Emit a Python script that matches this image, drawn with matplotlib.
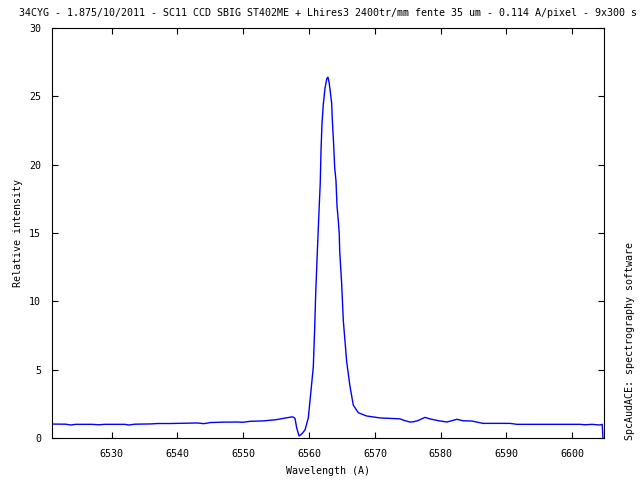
import matplotlib
matplotlib.use("Agg")
import matplotlib.pyplot as plt
import numpy as np

# spectrum (wavelength in A, relative intensity)
wavelength = [
    6520.93, 6523.0, 6523.8, 6524.5, 6527.0, 6528.0, 6529.0, 6532.0, 6532.6, 6533.5,
    6536.0, 6537.0, 6539.0, 6541.0, 6543.0, 6544.0, 6545.0, 6547.0, 6549.0, 6550.0,
    6551.0, 6553.0, 6555.0, 6556.6, 6557.5, 6557.86, 6558.12, 6558.47, 6558.88, 6559.38,
    6559.88, 6560.40, 6560.64, 6560.85, 6561.00, 6561.20, 6561.50, 6561.70, 6561.81, 6561.96,
    6562.16, 6562.42, 6562.70, 6562.87, 6563.05, 6563.18, 6563.43, 6563.53, 6563.74, 6563.89,
    6564.09, 6564.24, 6564.44, 6564.59, 6564.65, 6564.95, 6565.20, 6565.71, 6566.21, 6566.72,
    6567.48, 6568.75, 6570.78, 6573.8, 6574.57, 6575.33, 6575.79, 6576.55, 6577.61, 6578.37,
    6579.59, 6580.96, 6582.48, 6583.39, 6584.76, 6586.43, 6590.53, 6591.59, 6601.17, 6602.0,
    6603.0, 6604.2, 6604.55, 6604.65,
]
intensity = [
    1.02, 1.01, 0.95, 1.00, 1.00, 0.97, 1.00, 1.00, 0.95, 1.01,
    1.03, 1.06, 1.06, 1.08, 1.10, 1.05, 1.13, 1.16, 1.17, 1.15,
    1.22, 1.25, 1.34, 1.48, 1.55, 1.44, 0.73, 0.15, 0.29, 0.59,
    1.46, 4.0, 5.2, 8.0, 10.5, 13.0, 16.5, 18.7, 21.0, 23.0,
    24.4, 25.6, 26.3, 26.4, 26.0, 25.5, 24.5, 23.3, 21.4, 19.8,
    18.8, 17.0, 15.9, 14.9, 13.7, 11.3, 8.6, 5.6, 3.8, 2.4,
    1.85, 1.61, 1.47, 1.40, 1.27, 1.17, 1.18, 1.27, 1.51, 1.40,
    1.27, 1.17, 1.37, 1.26, 1.24, 1.07, 1.07, 1.00, 1.00, 0.97,
    1.00, 0.95, 1.00, 0.05,
]

x_ticks = [6530, 6540, 6550, 6560, 6570, 6580, 6590, 6600]
y_ticks = [0, 5, 10, 15, 20, 25, 30]

title = "34CYG - 1.875/10/2011 - SC11 CCD SBIG ST402ME + Lhires3 2400tr/mm fente 35 um - 0.114 A/pixel - 9x300 s"

plt.rcParams['font.family'] = ['DejaVu Sans Mono']
plt.rcParams['font.size'] = 7.2

fig = plt.figure(figsize=(6.4, 4.8), dpi=100)
ax = fig.add_axes([52 / 640, 42 / 480, 552 / 640, 410 / 480])

ax.plot(wavelength, intensity, color='#0000ff', linewidth=1.0)

ax.set_xlim(6520.93, 6604.82)
ax.set_ylim(0, 30)
ax.set_xticks(x_ticks)
ax.set_yticks(y_ticks)
ax.tick_params(direction='in', length=4, width=0.8, top=True, right=True, pad=8)
for s in ax.spines.values():
    s.set_linewidth(0.8)

ax.set_xlabel("Wavelength (A)", labelpad=5)
ax.set_ylabel("Relative intensity", labelpad=4)
fig.text(328 / 640, 1 - 13 / 480, title, ha='center', va='center')
fig.text(630 / 640, 40 / 480, "SpcAudACE: spectrography software",
         rotation=90, ha='center', va='bottom')

fig.savefig("out.png", dpi=100)
